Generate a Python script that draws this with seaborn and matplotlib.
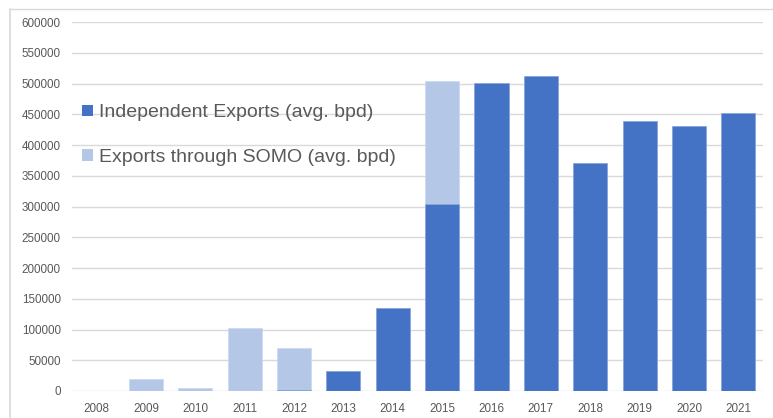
import matplotlib
matplotlib.use("Agg")
import matplotlib.pyplot as plt
import seaborn as sns
import pandas as pd
from matplotlib.lines import Line2D
from matplotlib.patches import Patch

years = ["2008", "2009", "2010", "2011", "2012", "2013", "2014",
         "2015", "2016", "2017", "2018", "2019", "2020", "2021"]
independent = [0, 0, 0, 0, 2000, 32000, 134500, 304000, 501000, 512000,
               370000, 439500, 431000, 452000]
somo = [500, 19000, 5000, 103000, 68000, 0, 0, 200000, 0, 0, 0, 0, 0, 0]
yticks = [0, 50000, 100000, 150000, 200000, 250000, 300000,
          350000, 400000, 450000, 500000, 550000, 600000]

dark = "#4472C4"
light = "#B4C7E7"

df = pd.DataFrame({"year": years, "independent": independent, "somo": somo})
df["total"] = df["independent"] + df["somo"]

sns.set_style("white")
plt.rcParams["font.family"] = ["Liberation Sans", "DejaVu Sans"]

fig = plt.figure(figsize=(7.73, 4.18), dpi=100)
ax = fig.add_axes([0.0931, 0.0646, 0.8939, 0.8827])

sns.barplot(data=df, x="year", y="total", color=light, saturation=1,
            width=0.69, ax=ax, edgecolor="#c9d7ef", linewidth=0.5, zorder=3)
sns.barplot(data=df, x="year", y="independent", color=dark, saturation=1,
            width=0.69, ax=ax, edgecolor="#8eaadc", linewidth=0.5, zorder=4)

ax.set_ylim(0, 600000)
ax.set_xlim(-0.5, len(years) - 0.5)
ax.set_yticks(yticks)
ax.set_yticklabels([str(v) for v in yticks])
ax.set_xlabel("")
ax.set_ylabel("")
ax.yaxis.grid(True, color="#d9d9d9", linewidth=1.0, zorder=0)
ax.set_axisbelow(True)
for s in ax.spines.values():
    s.set_visible(False)
ax.tick_params(axis="both", length=0, labelsize=8.4, labelcolor="#595959")
ax.tick_params(axis="y", pad=8)
ax.tick_params(axis="x", pad=8.5)

handles = [Patch(facecolor=dark, edgecolor="none"),
           Patch(facecolor=light, edgecolor="none")]
ax.legend(handles, ["Independent Exports (avg. bpd)", "Exports through SOMO (avg. bpd)"],
          loc="upper left", bbox_to_anchor=(0.015, 0.777), frameon=False,
          fontsize=14, labelcolor="#595959", handlelength=0.55, handleheight=0.55,
          handletextpad=0.3, labelspacing=1.4, borderpad=0, borderaxespad=0)

# chart border (left and top)
fig.add_artist(Line2D([0.0129, 0.0129], [0, 0.978], transform=fig.transFigure,
                      color="#d9d9d9", linewidth=1.2))
fig.add_artist(Line2D([0.0129, 1.0], [0.978, 0.978], transform=fig.transFigure,
                      color="#d9d9d9", linewidth=1.0))

fig.savefig("out.png", dpi=100)
